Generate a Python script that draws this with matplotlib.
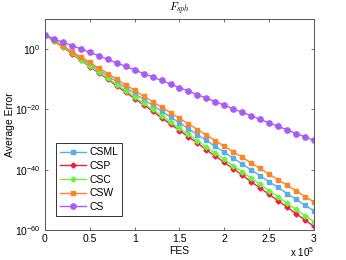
import numpy as np
import matplotlib
matplotlib.use('Agg')
from matplotlib import pyplot as plt
from matplotlib.ticker import FuncFormatter, FixedLocator

plt.rcParams['font.family'] = ['Liberation Sans', 'DejaVu Sans']
plt.rcParams['mathtext.fontset'] = 'cm'

fes = np.linspace(0, 3e5, 31)

# log10 of average error
cs = [4.8, 3.3, 2.3, 1.2, 0.1, -1.1, -2.2, -3.4, -4.6, -5.7, -6.9, -8.1, -9.2,
      -10.4, -11.6, -12.8, -13.9, -15.1, -16.3, -17.4, -18.6, -19.8, -21.0,
      -22.1, -23.3, -24.5, -25.6, -26.8, -28.0, -29.1, -30.3]
csw = [4.8, 3.0, 1.1, -0.8, -2.6, -4.4, -6.3, -8.1, -10.0, -11.9, -13.7, -15.6,
       -17.4, -19.3, -21.1, -23.0, -24.8, -26.7, -28.5, -30.4, -32.2, -34.1,
       -35.9, -37.8, -39.6, -41.5, -43.3, -45.2, -47.0, -48.9, -50.7]
csml = [4.8, 2.9, 0.9, -1.0, -3.0, -5.0, -6.9, -8.9, -10.8, -12.8, -14.7, -16.7,
        -18.6, -20.6, -22.5, -24.5, -26.4, -28.4, -30.3, -32.3, -34.2, -36.2,
        -38.1, -40.1, -42.0, -44.0, -45.9, -47.9, -49.8, -51.8, -53.7]
csc = [4.8, 2.7, 0.7, -1.4, -3.5, -5.6, -7.6, -9.7, -11.8, -13.8, -15.9, -18.0,
       -20.0, -22.1, -24.2, -26.3, -28.3, -30.4, -32.5, -34.5, -36.6, -38.7,
       -40.7, -42.8, -44.9, -47.0, -49.0, -51.1, -53.2, -55.2, -57.3]
csp = [4.8, 2.6, 0.6, -1.6, -3.7, -5.8, -7.9, -10.0, -12.2, -14.3, -16.4, -18.5,
       -20.6, -22.8, -24.9, -27.0, -29.1, -31.2, -33.4, -35.5, -37.6, -39.7,
       -41.8, -44.0, -46.1, -48.2, -50.3, -52.4, -54.6, -56.7, -58.8]

names = ['CSML', 'CSP', 'CSC', 'CSW', 'CS']
series = [csml, csp, csc, csw, cs]
colors = ['#5aaee6', '#f0203c', '#6cf23a', '#ff8424', '#a85cf5']
markers = ['s', 'D', 'D', 's', 'o']
sizes = [3.0, 2.6, 2.6, 3.0, 3.8]

fig = plt.figure(figsize=(3.46, 2.6), dpi=100)
ax = fig.add_axes([0.130, 0.1154, 0.7775, 0.8116])

for name, vals, c, m, s in zip(names, series, colors, markers, sizes):
    ax.semilogy(fes, 10.0 ** np.array(vals), color=c, marker=m, markersize=s,
                linewidth=1.0, label=name, markeredgecolor=c)

ax.set_xlim(0, 3e5)
ax.set_ylim(1e-60, 1e10)
ax.yaxis.set_major_locator(FixedLocator([1e-60, 1e-40, 1e-20, 1e0]))
ax.yaxis.set_minor_locator(FixedLocator([]))
ax.xaxis.set_major_locator(FixedLocator(np.arange(0, 3.01e5, 0.5e5)))
ax.xaxis.set_major_formatter(FuncFormatter(lambda v, p: f'{v / 1e5:g}'))

ax.tick_params(direction='in', top=True, right=True, labelsize=7.5,
               length=2.5, width=0.6, pad=3, colors='#555555', labelcolor='black')
for sp in ax.spines.values():
    sp.set_linewidth(0.7)
    sp.set_color('#555555')

ax.set_xlabel('FES', fontsize=7.5, labelpad=1)
ax.set_ylabel('Average Error', fontsize=7.5, labelpad=0)
ax.set_title(r'$F_{sph}$', fontsize=8, pad=6)
ax.text(1.0, -0.07, r'x $\mathregular{10^5}$', transform=ax.transAxes,
        fontsize=7, ha='right', va='top')

leg = ax.legend(loc='lower left', bbox_to_anchor=(0.041, 0.066), fontsize=7.5,
                frameon=True, fancybox=False, handlelength=2.5, borderaxespad=0,
                borderpad=0.4, labelspacing=0.35, handletextpad=0.3)
leg.get_frame().set_edgecolor('black')
leg.get_frame().set_linewidth(0.7)

plt.savefig('out.png', dpi=100)
